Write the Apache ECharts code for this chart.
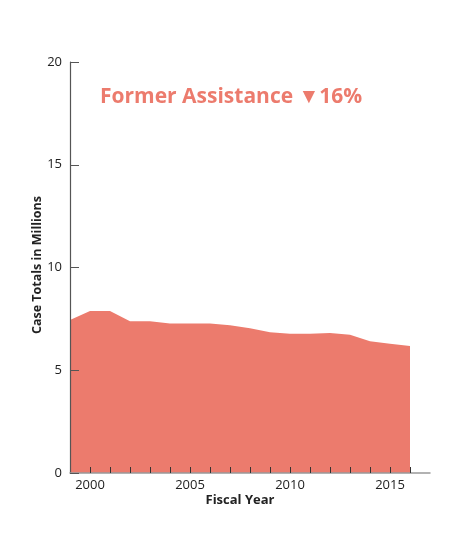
<!DOCTYPE html>
<html><head><meta charset="utf-8">
<script src="https://cdn.jsdelivr.net/npm/echarts@6/dist/echarts.min.js"></script>
<style>html,body{margin:0;padding:0;background:#fff}#c{width:474px;height:543px}</style>
</head><body><div id="c"></div>
<script>
const years = [1999,2000,2001,2002,2003,2004,2005,2006,2007,2008,2009,2010,2011,2012,2013,2014,2015,2016];
const cases = [7.45,7.88,7.88,7.38,7.38,7.28,7.28,7.28,7.19,7.04,6.85,6.78,6.78,6.81,6.73,6.41,6.29,6.18];
const xTickLabels = [2000,2005,2010,2015];
const title = 'Former Assistance \u25BC16%';
const xName = 'Fiscal Year';
const yName = 'Case Totals in Millions';
const fill = '#EC7B6D';
const font = '"Open Sans", "Noto Sans", sans-serif';
const chart = echarts.init(document.getElementById('c'));
chart.setOption({
  animation:false,
  grid:{left:70,right:44,top:62,bottom:70},
  xAxis:{type:'value',min:1999,max:2017,interval:1,z:5,
    axisLine:{lineStyle:{color:'#999',width:1.5}},
    axisTick:{inside:true,length:6,customValues:years.slice(1),lineStyle:{color:'#333',width:1}},
    axisLabel:{color:'#222',fontSize:13,fontFamily:font,margin:6,customValues:xTickLabels,
      formatter:v=> String(v)},
    splitLine:{show:false}},
  yAxis:{type:'value',min:0,max:20,interval:5,z:5,
    axisLine:{show:true,lineStyle:{color:'#555',width:1.2}},
    axisTick:{show:true,inside:true,length:9,lineStyle:{color:'#555'}},
    axisLabel:{color:'#222',fontSize:13,fontFamily:font,margin:8},
    splitLine:{show:false}},
  series:[{type:'line',data:years.map((y,i)=>[y,cases[i]]),symbol:'none',
    lineStyle:{width:0},areaStyle:{color:fill,opacity:1},z:1}],
  graphic:[
    {type:'text',left:100,top:87,style:{text:title,fill:fill,font:'bold 21px '+font}},
    {type:'text',x:240,y:500,style:{text:xName,fill:'#222',font:'bold 13px '+font,textAlign:'center',textVerticalAlign:'middle'}},
    {type:'text',x:37,y:265,rotation:Math.PI/2,style:{text:yName,fill:'#222',font:'bold 12.5px '+font,textAlign:'center',textVerticalAlign:'middle'}}
  ]
});
</script></body></html>
